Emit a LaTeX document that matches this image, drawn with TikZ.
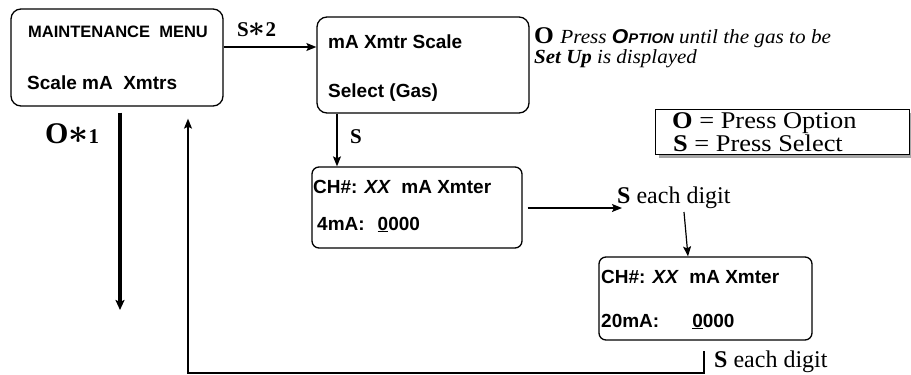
\documentclass[tikz,border=0pt]{standalone}
\usepackage{fontspec}
\usepackage{graphicx}
\setmainfont{Liberation Serif}
\setsansfont{Liberation Sans}
\usetikzlibrary{arrows.meta}
\newcommand{\fs}[1]{\fontsize{#1}{#1}\selectfont}
\newcommand{\bstar}{\scalebox{1.4}{\boldmath$\ast$}}
\begin{document}
\begin{tikzpicture}[x=1pt,y=-1pt,
  scr/.style={draw, line width=1.3pt, rounded corners=10pt, inner sep=0pt},
  boxtxt/.style={anchor=base west, inner sep=0pt, font=\sffamily\bfseries\fs{19}},
  lbl/.style={anchor=base west, inner sep=0pt, font=\fs{24}},
  arr/.style={-{Stealth[length=10pt,width=8pt,inset=2pt]}, line width=1.2pt},
  thickarr/.style={-{Stealth[length=10pt,width=9pt,inset=2pt]}, line width=3.6pt}]
\useasboundingbox (0,0) rectangle (911,375);

% screens
\node[scr, minimum width=212pt, minimum height=97pt] (b1) at (117,57.5) {};
\node[scr, minimum width=212pt, minimum height=96pt] (b2) at (423,65) {};
\node[scr, rounded corners=7pt, minimum width=210pt, minimum height=81pt] (b3) at (417,207.5) {};
\node[scr, rounded corners=7pt, minimum width=213pt, minimum height=83pt] (b4) at (705.5,298.5) {};

% screen texts
\node[boxtxt, font=\sffamily\bfseries\fs{16.5}] (t1a) at (28,37) {MAINTENANCE\ \ MENU};
\node[boxtxt] (t1b) at (27,89) {Scale mA\ \ Xmtrs};
\node[boxtxt] (t2a) at (328,48) {mA Xmtr Scale};
\node[boxtxt] (t2b) at (328,97) {Select (Gas)};
\node[boxtxt] (t3a) at (313,193) {CH\#: \textit{XX}\ \ mA Xmter};
\node[boxtxt] (t3b) at (317,230) {4mA:\hspace*{13pt}\underline{0}000};
\node[boxtxt] (t4a) at (601,283) {CH\#: \textit{XX}\ \ mA Xmter};
\node[boxtxt] (t4b) at (601,327) {20mA:\hspace*{33pt}\underline{0}000};

% note text
\node[lbl] (n1) at (534,43) {\scalebox{1.06}[1]{\bfseries\fs{24}O \mdseries\itshape\fs{20}Press {\sffamily\bfseries O\fs{14}PTION} until the gas to be}};
\node[lbl] (n2) at (534,63) {\scalebox{1.05}[1]{\itshape\fs{20}\bfseries Set Up \mdseries is displayed}};

% legend
\fill[black!35] (659,113) rectangle (915,158);
\node[draw, fill=white, line width=1pt, minimum width=254pt, minimum height=45pt, inner sep=0pt] (leg) at (782,132) {};
\node[lbl] (legO) at (672,128) {\scalebox{1.1}[1]{\fs{24}\textbf{O} = Press Option}};
\node[lbl] (legS) at (673,151) {\scalebox{1.1}[1]{\fs{24}\textbf{S} = Press Select}};

% labels
\node[lbl, font=\bfseries\fs{21}] (s2) at (237,36) {S\bstar 2};
\node[lbl, font=\bfseries\fs{30}] (o1) at (45,143) {O\bstar{\fs{21}1}};
\node[lbl, font=\bfseries\fs{21}] (sl) at (350,143) {S};
\node[lbl] (d1) at (617,203) {\textbf{S} each digit};
\node[lbl] (d2) at (714,367) {\textbf{S} each digit};
\coordinate (r1) at (704,351);
\coordinate (r2) at (704,373);
\coordinate (r3) at (188,373);
\coordinate (oend) at (120,310);

% connectors
\draw[arr] (b1.east |- 0,47) -- (b2.west |- 0,47);
\draw[arr] (b2.south -| 337,0) -- (b3.north -| 337,0);
\draw[arr, shorten <=5pt] (b3.east |- 0,208) -- (622,208);
\draw[arr] (684,212) -- (b4.north -| 688,0);
\draw[arr, shorten >=12pt] (r1) -- (r2) -- (r3) -- (b1.south -| r3);
\draw[thickarr, shorten <=6pt] (b1.south -| oend) -- (oend);
\end{tikzpicture}
\end{document}
